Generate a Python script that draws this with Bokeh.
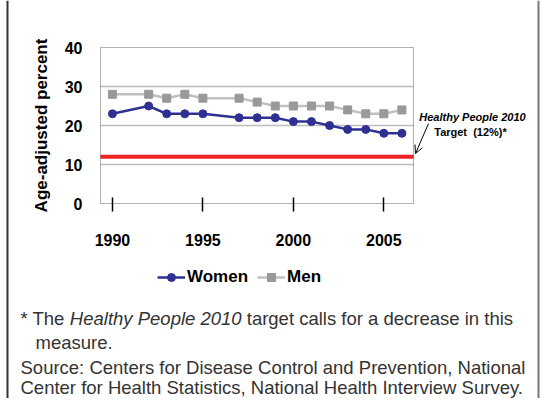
from bokeh.plotting import figure
from bokeh.models import (Range1d, FixedTicker, Label, Legend, LegendItem,
                          Arrow, OpenHead, BoxAnnotation)
from bokeh.embed import file_html
from bokeh.resources import INLINE

# ---- data ----
years = [1990, 1992, 1993, 1994, 1995, 1997, 1998, 1999, 2000, 2001, 2002, 2003, 2004, 2005, 2006]
women = [23, 25, 23, 23, 23, 22, 22, 22, 21, 21, 20, 19, 19, 18, 18]
men = [28, 28, 27, 28, 27, 27, 26, 25, 25, 25, 25, 24, 23, 23, 24]
target = 12
x_ticks = [1990, 1995, 2000, 2005]
y_ticks = [0, 10, 20, 30, 40]
grid_values = [10, 20, 30]
series_names = ["Women", "Men"]

# ---- layout geometry (canvas px) ----
FONT = "Liberation Sans"
W, H = 540, 398
PX_L, PX_R, PY_T, PY_B = 100, 413, 47, 203      # plot box
XMIN, XMAX = 1989.34, 2006.64                    # x extent of plot box
YMIN, YMAX = y_ticks[0], y_ticks[-1]
kx = (PX_R - PX_L) / (XMAX - XMIN)
ky = (PY_B - PY_T) / (YMAX - YMIN)
x_range = Range1d(XMIN - PX_L / kx, XMAX + (W - PX_R) / kx)
y_range = Range1d(YMIN - (H - PY_B) / ky, YMAX + PY_T / ky)


def X(px):
    return x_range.start + px / kx


def Y(py):
    return y_range.end - py / ky


p = figure(width=W, height=H, output_backend="svg", toolbar_location=None,
           x_range=x_range, y_range=y_range, min_border=0,
           min_border_left=0, min_border_right=0, min_border_top=0, min_border_bottom=0)
p.background_fill_color = "white"
p.border_fill_color = "white"
p.outline_line_color = None
p.xgrid.grid_line_color = None
p.ygrid.grid_line_color = None

# axes (drawn at the plot box edges)
xa = p.xaxis[0]
xa.fixed_location = YMIN
xa.bounds = (XMIN, XMAX)
xa.ticker = FixedTicker(ticks=x_ticks)
xa.axis_line_color = None
xa.major_tick_in = 6
xa.major_tick_out = 8
xa.major_tick_line_color = "black"
xa.major_tick_line_width = 1.5
xa.minor_tick_line_color = None
xa.major_label_standoff = 22
xa.major_label_text_font = FONT
xa.major_label_text_font_style = "bold"
xa.major_label_text_font_size = "16px"
xa.major_label_text_color = "black"

ya = p.yaxis[0]
ya.fixed_location = XMIN
ya.bounds = (YMIN, YMAX)
ya.ticker = FixedTicker(ticks=y_ticks)
ya.axis_line_color = None
ya.major_tick_line_color = None
ya.minor_tick_line_color = None
ya.major_label_standoff = 12
ya.major_label_text_font = FONT
ya.major_label_text_font_style = "bold"
ya.major_label_text_font_size = "16px"
ya.major_label_text_color = "black"
ya.axis_label = "Age-adjusted percent"
ya.axis_label_text_font = FONT
ya.axis_label_text_font_style = "bold"
ya.axis_label_text_font_size = "17px"
ya.axis_label_text_color = "black"
ya.axis_label_standoff = 11

# horizontal gridlines and target line across the plot box
p.segment(x0=XMIN, x1=XMAX, y0=grid_values, y1=grid_values, line_color="#BDBDBD", line_width=1.5)
p.segment(x0=XMIN, x1=XMAX, y0=target, y1=target, line_color="#EE2326", line_width=4)

# series
BLUE = "#2E3192"
men_line = p.line(years, men, line_color="#C0C0C0", line_width=2.5)
men_pts = p.scatter(years, men, marker="square", size=8, fill_color="#999999", line_color="#999999")
women_line = p.line(years, women, line_color=BLUE, line_width=2.5)
women_pts = p.scatter(years, women, marker="circle", size=8, fill_color=BLUE, line_color=BLUE)

# plot box outline
p.add_layout(BoxAnnotation(left=XMIN, right=XMAX, bottom=YMIN, top=YMAX,
                           fill_alpha=0, line_color="black", line_width=1))

# legend
legend = Legend(items=[LegendItem(label=series_names[0], renderers=[women_line, women_pts]),
                       LegendItem(label=series_names[1], renderers=[men_line, men_pts])],
                orientation="horizontal", location=(157, H - 287),
                border_line_color=None, background_fill_alpha=0,
                padding=0, margin=0, spacing=9, glyph_width=28, label_standoff=2,
                label_text_font=FONT, label_text_font_style="bold",
                label_text_font_size="17px", label_text_color="black")
p.add_layout(legend, "center")

# annotation for target
p.add_layout(Label(x=X(472), y=Y(116), text="Healthy People 2010", text_align="center",
                   text_baseline="middle", text_font=FONT, text_font_style="bold italic",
                   text_font_size="11px", text_color="black"))
p.add_layout(Label(x=X(470), y=Y(131), text="Target\u00a0\u00a0(12%)*", text_align="center",
                   text_baseline="middle", text_font=FONT, text_font_style="bold",
                   text_font_size="11px", text_color="black"))
p.add_layout(Arrow(end=OpenHead(size=8, line_color="black", line_width=1),
                   x_start=X(428), y_start=Y(123), x_end=X(415), y_end=Y(153),
                   line_color="black", line_width=1))

# footnotes
FSZ = 18.5
FS = f"{FSZ}px"
TC = "#333333"
EM_PREFIX, EM_ITALIC, EM_SPACE = 2.668, 9.283, 0.278   # Arial-metric widths in em


def note(px, py, text, style="normal"):
    p.add_layout(Label(x=X(px), y=Y(py), text=text, text_align="left", text_baseline="middle",
                       text_font=FONT, text_font_style=style, text_font_size=FS, text_color=TC))


LX = 20
x_it = LX + EM_PREFIX * FSZ
x_rest = x_it + (EM_ITALIC + EM_SPACE) * FSZ
note(LX, 318, "* The")
note(x_it, 318, "Healthy People 2010", "italic")
note(x_rest, 318, "target calls for a decrease in this")
note(35, 342, "measure.")
note(LX, 367, "Source: Centers for Disease Control and Prevention, National")
note(LX, 387, "Center for Health Statistics, National Health Interview Survey.")

# outer vertical rules
p.add_layout(BoxAnnotation(left=X(6), right=X(8), bottom=y_range.start, top=y_range.end,
                           fill_color="#333333", fill_alpha=1, line_color=None))
p.add_layout(BoxAnnotation(left=X(537), right=X(539), bottom=y_range.start, top=y_range.end,
                           fill_color="#777777", fill_alpha=1, line_color=None))

open("out.html", "w").write(file_html(p, INLINE))
